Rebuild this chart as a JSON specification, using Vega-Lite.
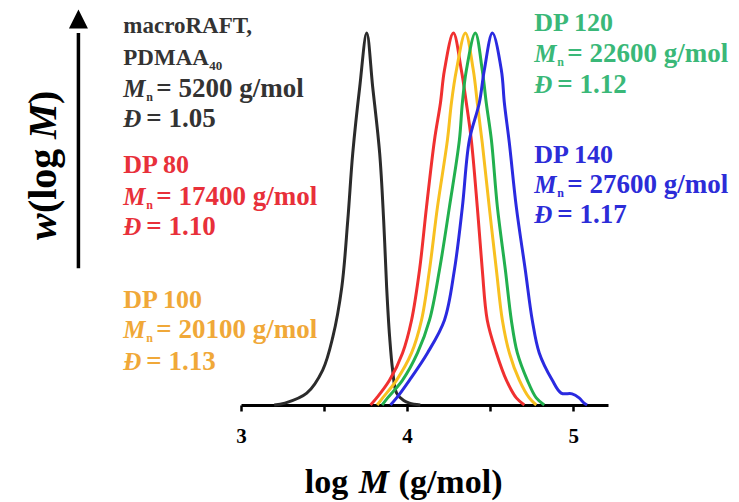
{
  "$schema": "https://vega.github.io/schema/vega-lite/v6.json",
  "width": 367,
  "height": 395,
  "autosize": {"type": "none"},
  "padding": {"left": 241, "top": 10, "right": 131, "bottom": 97},
  "background": "white",
  "config": {
    "view": {"stroke": null},
    "axisX": {
      "domainColor": "#000000",
      "domainWidth": 3,
      "tickColor": "#000000",
      "tickWidth": 2.5,
      "tickSize": 6,
      "grid": false,
      "labelFont": "Liberation Serif",
      "labelFontWeight": "bold",
      "labelFontSize": 21,
      "labelColor": "#000000",
      "labelPadding": 14,
      "labelFlush": false,
      "labelOverlap": false,
      "title": null
    }
  },
  "datasets": {
    "curves": [
      {"s": "macro", "lm": 3.20, "w": 0},
      {"s": "macro", "lm": 3.264, "w": 0.005},
      {"s": "macro", "lm": 3.396, "w": 0.032},
      {"s": "macro", "lm": 3.492, "w": 0.094},
      {"s": "macro", "lm": 3.553, "w": 0.183},
      {"s": "macro", "lm": 3.607, "w": 0.317},
      {"s": "macro", "lm": 3.643, "w": 0.497},
      {"s": "macro", "lm": 3.673, "w": 0.677},
      {"s": "macro", "lm": 3.715, "w": 0.855},
      {"s": "macro", "lm": 3.757, "w": 1.0},
      {"s": "macro", "lm": 3.793, "w": 0.855},
      {"s": "macro", "lm": 3.835, "w": 0.677},
      {"s": "macro", "lm": 3.859, "w": 0.497},
      {"s": "macro", "lm": 3.877, "w": 0.317},
      {"s": "macro", "lm": 3.895, "w": 0.183},
      {"s": "macro", "lm": 3.913, "w": 0.094},
      {"s": "macro", "lm": 3.937, "w": 0.032},
      {"s": "macro", "lm": 3.98, "w": 0.012},
      {"s": "macro", "lm": 4.015, "w": 0.005},
      {"s": "macro", "lm": 4.08, "w": 0},

      {"s": "dp80", "lm": 3.78, "w": 0},
      {"s": "dp80", "lm": 3.817, "w": 0.019},
      {"s": "dp80", "lm": 3.895, "w": 0.067},
      {"s": "dp80", "lm": 3.973, "w": 0.140},
      {"s": "dp80", "lm": 4.027, "w": 0.228},
      {"s": "dp80", "lm": 4.075, "w": 0.363},
      {"s": "dp80", "lm": 4.117, "w": 0.532},
      {"s": "dp80", "lm": 4.165, "w": 0.712},
      {"s": "dp80", "lm": 4.201, "w": 0.812},
      {"s": "dp80", "lm": 4.225, "w": 0.90},
      {"s": "dp80", "lm": 4.279, "w": 1.0},
      {"s": "dp80", "lm": 4.327, "w": 0.90},
      {"s": "dp80", "lm": 4.357, "w": 0.812},
      {"s": "dp80", "lm": 4.387, "w": 0.712},
      {"s": "dp80", "lm": 4.423, "w": 0.532},
      {"s": "dp80", "lm": 4.453, "w": 0.363},
      {"s": "dp80", "lm": 4.483, "w": 0.228},
      {"s": "dp80", "lm": 4.538, "w": 0.140},
      {"s": "dp80", "lm": 4.598, "w": 0.067},
      {"s": "dp80", "lm": 4.658, "w": 0.019},
      {"s": "dp80", "lm": 4.706, "w": 0},

      {"s": "dp100", "lm": 3.82, "w": 0},
      {"s": "dp100", "lm": 3.853, "w": 0.019},
      {"s": "dp100", "lm": 3.937, "w": 0.067},
      {"s": "dp100", "lm": 4.027, "w": 0.140},
      {"s": "dp100", "lm": 4.087, "w": 0.228},
      {"s": "dp100", "lm": 4.135, "w": 0.363},
      {"s": "dp100", "lm": 4.183, "w": 0.532},
      {"s": "dp100", "lm": 4.243, "w": 0.712},
      {"s": "dp100", "lm": 4.267, "w": 0.812},
      {"s": "dp100", "lm": 4.297, "w": 0.90},
      {"s": "dp100", "lm": 4.351, "w": 1.0},
      {"s": "dp100", "lm": 4.399, "w": 0.90},
      {"s": "dp100", "lm": 4.423, "w": 0.812},
      {"s": "dp100", "lm": 4.453, "w": 0.704},
      {"s": "dp100", "lm": 4.495, "w": 0.532},
      {"s": "dp100", "lm": 4.538, "w": 0.363},
      {"s": "dp100", "lm": 4.574, "w": 0.228},
      {"s": "dp100", "lm": 4.616, "w": 0.140},
      {"s": "dp100", "lm": 4.676, "w": 0.067},
      {"s": "dp100", "lm": 4.736, "w": 0.019},
      {"s": "dp100", "lm": 4.778, "w": 0},

      {"s": "dp120", "lm": 3.85, "w": 0},
      {"s": "dp120", "lm": 3.883, "w": 0.019},
      {"s": "dp120", "lm": 3.973, "w": 0.067},
      {"s": "dp120", "lm": 4.063, "w": 0.140},
      {"s": "dp120", "lm": 4.135, "w": 0.228},
      {"s": "dp120", "lm": 4.195, "w": 0.363},
      {"s": "dp120", "lm": 4.255, "w": 0.532},
      {"s": "dp120", "lm": 4.315, "w": 0.712},
      {"s": "dp120", "lm": 4.333, "w": 0.812},
      {"s": "dp120", "lm": 4.357, "w": 0.90},
      {"s": "dp120", "lm": 4.411, "w": 1.0},
      {"s": "dp120", "lm": 4.453, "w": 0.90},
      {"s": "dp120", "lm": 4.477, "w": 0.812},
      {"s": "dp120", "lm": 4.508, "w": 0.712},
      {"s": "dp120", "lm": 4.544, "w": 0.532},
      {"s": "dp120", "lm": 4.592, "w": 0.363},
      {"s": "dp120", "lm": 4.628, "w": 0.228},
      {"s": "dp120", "lm": 4.664, "w": 0.140},
      {"s": "dp120", "lm": 4.724, "w": 0.067},
      {"s": "dp120", "lm": 4.778, "w": 0.019},
      {"s": "dp120", "lm": 4.826, "w": 0},

      {"s": "dp140", "lm": 3.90, "w": 0},
      {"s": "dp140", "lm": 3.937, "w": 0.019},
      {"s": "dp140", "lm": 4.015, "w": 0.067},
      {"s": "dp140", "lm": 4.123, "w": 0.140},
      {"s": "dp140", "lm": 4.225, "w": 0.228},
      {"s": "dp140", "lm": 4.285, "w": 0.363},
      {"s": "dp140", "lm": 4.333, "w": 0.532},
      {"s": "dp140", "lm": 4.375, "w": 0.712},
      {"s": "dp140", "lm": 4.435, "w": 0.812},
      {"s": "dp140", "lm": 4.465, "w": 0.90},
      {"s": "dp140", "lm": 4.514, "w": 1.0},
      {"s": "dp140", "lm": 4.568, "w": 0.90},
      {"s": "dp140", "lm": 4.586, "w": 0.812},
      {"s": "dp140", "lm": 4.616, "w": 0.704},
      {"s": "dp140", "lm": 4.658, "w": 0.532},
      {"s": "dp140", "lm": 4.712, "w": 0.363},
      {"s": "dp140", "lm": 4.754, "w": 0.228},
      {"s": "dp140", "lm": 4.796, "w": 0.140},
      {"s": "dp140", "lm": 4.874, "w": 0.067},
      {"s": "dp140", "lm": 4.928, "w": 0.032},
      {"s": "dp140", "lm": 4.994, "w": 0.030},
      {"s": "dp140", "lm": 5.036, "w": 0.019},
      {"s": "dp140", "lm": 5.066, "w": 0.005},
      {"s": "dp140", "lm": 5.084, "w": 0}
    ],
    "labels": [
      {"s": "macro", "k": "macro", "x": 2.291, "y": 1.0, "t": "macroRAFT,"},
      {"s": "macro", "k": "sub", "x": 2.291, "y": 0.914, "t": "PDMAA", "sub": "40"},
      {"s": "macro", "k": "mn", "x": 2.291, "y": 0.828, "t": "= 5200 g/mol"},
      {"s": "macro", "k": "d", "x": 2.291, "y": 0.747, "t": "= 1.05"},
      {"s": "dp80", "k": "dp", "x": 2.291, "y": 0.624, "t": "DP 80"},
      {"s": "dp80", "k": "mn", "x": 2.291, "y": 0.538, "t": "= 17400 g/mol"},
      {"s": "dp80", "k": "d", "x": 2.291, "y": 0.457, "t": "= 1.10"},
      {"s": "dp100", "k": "dp", "x": 2.291, "y": 0.261, "t": "DP 100"},
      {"s": "dp100", "k": "mn", "x": 2.291, "y": 0.180, "t": "= 20100 g/mol"},
      {"s": "dp100", "k": "d", "x": 2.291, "y": 0.094, "t": "= 1.13"},
      {"s": "dp120", "k": "dp", "x": 4.766, "y": 1.005, "t": "DP 120"},
      {"s": "dp120", "k": "mn", "x": 4.766, "y": 0.922, "t": "= 22600 g/mol"},
      {"s": "dp120", "k": "d", "x": 4.766, "y": 0.839, "t": "= 1.12"},
      {"s": "dp140", "k": "dp", "x": 4.766, "y": 0.651, "t": "DP 140"},
      {"s": "dp140", "k": "mn", "x": 4.766, "y": 0.570, "t": "= 27600 g/mol"},
      {"s": "dp140", "k": "d", "x": 4.766, "y": 0.489, "t": "= 1.17"}
    ]
  },
  "resolve": {"scale": {"color": "independent"}},
  "layer": [
    {
      "data": {"values": [{"x": 2.021, "y": 0.368, "y2": 1.0}]},
      "mark": {"type": "rule", "color": "#000000", "strokeWidth": 3.5},
      "encoding": {
        "x": {"field": "x", "type": "quantitative", "scale": {"domain": [3, 5.21], "nice": false, "zero": false}, "axis": {"values": [3, 3.5, 4, 4.5, 5], "labelExpr": "datum.value % 1 === 0 ? '' + datum.value : ''"}},
        "y": {"field": "y", "type": "quantitative", "scale": {"domain": [0, 1.062], "nice": false, "zero": false}, "axis": null},
        "y2": {"field": "y2"}
      }
    },
    {
      "data": {"values": [{"x": 2.021, "y": 1.038}]},
      "mark": {"type": "point", "filled": true, "color": "#000000", "opacity": 1, "shape": "M-1,1 L0,-1 L1,1 Z", "size": 361},
      "encoding": {
        "x": {"field": "x", "type": "quantitative"},
        "y": {"field": "y", "type": "quantitative", "axis": null}
      }
    },
    {
      "data": {"name": "curves"},
      "mark": {"type": "line", "strokeWidth": 3, "interpolate": "catmull-rom"},
      "encoding": {
        "x": {"field": "lm", "type": "quantitative"},
        "y": {"field": "w", "type": "quantitative", "axis": null},
        "color": {"field": "s", "type": "nominal", "legend": null, "scale": {"domain": ["macro", "dp80", "dp100", "dp120", "dp140"], "range": ["#2b2b2b", "#f03030", "#f8c020", "#22b04e", "#2a2ae0"]}}
      }
    },
    {
      "data": {"name": "labels"},
      "encoding": {
        "x": {"field": "x", "type": "quantitative"},
        "y": {"field": "y", "type": "quantitative", "axis": null},
        "color": {"field": "s", "type": "nominal", "legend": null, "scale": {"domain": ["macro", "dp80", "dp100", "dp120", "dp140"], "range": ["#333333", "#e8303a", "#f0a838", "#3ab878", "#2c2cd8"]}}
      },
      "layer": [
        {
          "transform": [{"filter": "datum.k === 'macro' || datum.k === 'sub'"}],
          "mark": {"type": "text", "align": "left", "baseline": "alphabetic", "font": "Liberation Serif", "fontWeight": "bold", "fontSize": 23},
          "encoding": {"text": {"field": "t"}}
        },
        {
          "transform": [{"filter": "datum.k === 'dp'"}],
          "mark": {"type": "text", "align": "left", "baseline": "alphabetic", "font": "Liberation Serif", "fontWeight": "bold", "fontSize": 26},
          "encoding": {"text": {"field": "t"}}
        },
        {
          "transform": [{"filter": "datum.k === 'sub'"}],
          "mark": {"type": "text", "align": "left", "baseline": "alphabetic", "font": "Liberation Serif", "fontWeight": "bold", "fontSize": 13, "dx": 86, "dy": 5},
          "encoding": {"text": {"field": "sub"}}
        },
        {
          "transform": [{"filter": "datum.k === 'mn'"}],
          "mark": {"type": "text", "align": "left", "baseline": "alphabetic", "font": "Liberation Serif", "fontWeight": "bold", "fontStyle": "italic", "fontSize": 25},
          "encoding": {"text": {"value": "M"}}
        },
        {
          "transform": [{"filter": "datum.k === 'mn'"}],
          "mark": {"type": "text", "align": "left", "baseline": "alphabetic", "font": "Liberation Serif", "fontWeight": "bold", "fontSize": 12, "dx": 23, "dy": 4},
          "encoding": {"text": {"value": "n"}}
        },
        {
          "transform": [{"filter": "datum.k === 'mn'"}],
          "mark": {"type": "text", "align": "left", "baseline": "alphabetic", "font": "Liberation Serif", "fontWeight": "bold", "fontSize": 27, "dx": 33},
          "encoding": {"text": {"field": "t"}}
        },
        {
          "transform": [{"filter": "datum.k === 'd'"}],
          "mark": {"type": "text", "align": "left", "baseline": "alphabetic", "font": "Liberation Serif", "fontWeight": "bold", "fontStyle": "italic", "fontSize": 25},
          "encoding": {"text": {"value": "Đ"}}
        },
        {
          "transform": [{"filter": "datum.k === 'd'"}],
          "mark": {"type": "text", "align": "left", "baseline": "alphabetic", "font": "Liberation Serif", "fontWeight": "bold", "fontSize": 27, "dx": 23},
          "encoding": {"text": {"field": "t"}}
        }
      ]
    },
    {
      "data": {"values": [{"x": 3.384, "y": -0.2366, "t": "log"}, {"x": 3.949, "y": -0.2366, "t": "(g/mol)"}]},
      "mark": {"type": "text", "align": "left", "baseline": "alphabetic", "font": "Liberation Serif", "fontWeight": "bold", "fontSize": 34, "color": "#000000"},
      "encoding": {
        "x": {"field": "x", "type": "quantitative"},
        "y": {"field": "y", "type": "quantitative", "axis": null},
        "text": {"field": "t"}
      }
    },
    {
      "data": {"values": [{"x": 3.709, "y": -0.2366, "t": "M"}]},
      "mark": {"type": "text", "align": "left", "baseline": "alphabetic", "font": "Liberation Serif", "fontWeight": "bold", "fontStyle": "italic", "fontSize": 34, "color": "#000000"},
      "encoding": {
        "x": {"field": "x", "type": "quantitative"},
        "y": {"field": "y", "type": "quantitative", "axis": null},
        "text": {"field": "t"}
      }
    },
    {
      "data": {"values": [{"x": 1.883, "y": 0.516, "t": "(log "}, {"x": 1.883, "y": 0.809, "t": ")"}]},
      "mark": {"type": "text", "align": "left", "baseline": "alphabetic", "angle": 270, "font": "Liberation Serif", "fontWeight": "bold", "fontSize": 40, "color": "#000000"},
      "encoding": {
        "x": {"field": "x", "type": "quantitative"},
        "y": {"field": "y", "type": "quantitative", "axis": null},
        "text": {"field": "t"}
      }
    },
    {
      "data": {"values": [{"x": 1.883, "y": 0.4435, "t": "w"}, {"x": 1.883, "y": 0.715, "t": "M"}]},
      "mark": {"type": "text", "align": "left", "baseline": "alphabetic", "angle": 270, "font": "Liberation Serif", "fontWeight": "bold", "fontStyle": "italic", "fontSize": 40, "color": "#000000"},
      "encoding": {
        "x": {"field": "x", "type": "quantitative"},
        "y": {"field": "y", "type": "quantitative", "axis": null},
        "text": {"field": "t"}
      }
    }
  ]
}
